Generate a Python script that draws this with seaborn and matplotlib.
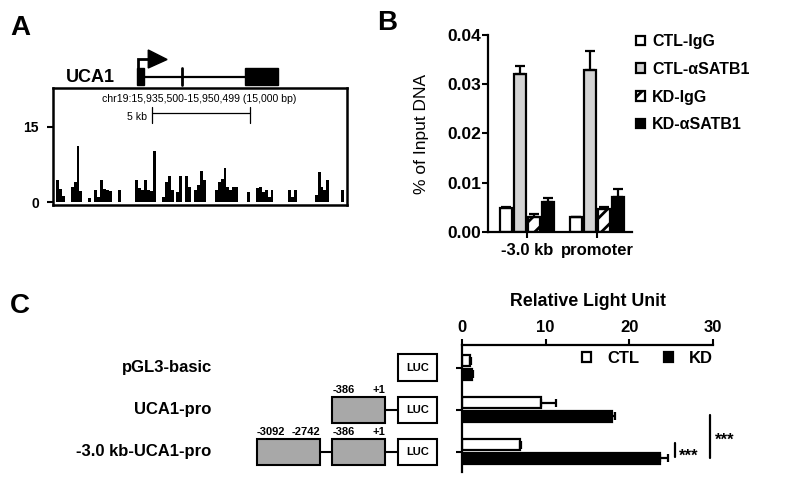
import numpy as np
import pandas as pd
import matplotlib.pyplot as plt
from matplotlib.patches import Patch, Rectangle, Polygon
import seaborn as sns

FIG_W, FIG_H = 785, 478

# ---- panel A: read coverage over the UCA1 locus (150 bp bins, 15 kb window) ----
TRACK_BIN_KB = 0.15
track_signal = [
    0, 4.4, 2.6, 1.2, 0, 0, 3.0, 4.1, 11.2, 2.2,
    0, 0, 0.9, 0, 2.4, 1.0, 4.4, 2.6, 2.4, 2.2,
    0, 0, 2.4, 0, 0, 0, 0, 0, 4.5, 2.8,
    2.4, 4.4, 2.5, 2.2, 10.3, 0, 0, 1.0, 4.0, 5.2,
    2.4, 0, 2.0, 5.2, 0, 5.2, 3.0, 0, 2.5, 3.5,
    6.3, 4.4, 0, 0, 0, 2.5, 4.1, 4.6, 6.9, 3.0,
    2.4, 3.1, 3.1, 0, 0, 0, 2.1, 0, 0, 2.8,
    3.1, 2.0, 2.5, 1.0, 2.5, 0, 0, 0, 0, 0,
    2.4, 1.0, 2.4, 0, 0, 0, 0, 0, 0, 1.5,
    6.1, 3.0, 2.4, 4.4, 0, 0, 0, 0, 2.4, 0,
]
track_yticks = [0, 15]
chr_label = "chr19:15,935,500-15,950,499 (15,000 bp)"
# gene model in kb from window start
exons_kb = [(4.29, 4.64), (9.80, 11.48)]
small_exon_kb = 6.58

# ---- panel B: ChIP-qPCR ----
b_regions = ["-3.0 kb", "promoter"]
b_groups = ["CTL-IgG", "CTL-\u03b1SATB1", "KD-IgG", "KD-\u03b1SATB1"]
b_ctl_igg = [0.0048, 0.0030]
b_ctl_satb1 = [0.0321, 0.0329]
b_kd_igg = [0.0030, 0.0046]
b_kd_satb1 = [0.0060, 0.0072]
b_ctl_igg_err = [0.0002, 0.0001]
b_ctl_satb1_err = [0.0017, 0.0039]
b_kd_igg_err = [0.0006, 0.0005]
b_kd_satb1_err = [0.0010, 0.0015]
b_yticks = [0.0, 0.01, 0.02, 0.03, 0.04]

# ---- panel C: luciferase reporter ----
c_constructs = ["pGL3-basic", "UCA1-pro", "-3.0 kb-UCA1-pro"]
c_conditions = ["CTL", "KD"]
c_ctl = [1.0, 9.5, 6.95]
c_kd = [1.2, 17.9, 23.65]
c_ctl_err = [0.15, 1.7, 0.15]
c_kd_err = [0.15, 0.4, 0.9]
c_xticks = [0, 10, 20, 30]

sns.set_style("ticks")
plt.rcParams["font.family"] = ["Liberation Sans", "DejaVu Sans"]
plt.rcParams["axes.edgecolor"] = "black"
plt.rcParams["xtick.color"] = "black"
plt.rcParams["ytick.color"] = "black"
plt.rcParams["text.color"] = "black"
plt.rcParams["axes.labelcolor"] = "black"
plt.rcParams["hatch.linewidth"] = 2.0

GREY_BOX = "#a8a8a8"
LIGHT = "#d3d3d3"


def px_axes(fig, left, top, right, bottom):
    return fig.add_axes([left / FIG_W, 1 - bottom / FIG_H,
                         (right - left) / FIG_W, (bottom - top) / FIG_H])


fig = plt.figure(figsize=(FIG_W / 100, FIG_H / 100), dpi=100)

# =================== A ===================
axA = px_axes(fig, 53, 88, 347, 205)
bin_starts = np.arange(len(track_signal)) * TRACK_BIN_KB
axA.bar(bin_starts, track_signal, width=TRACK_BIN_KB, align="edge",
        color="black", linewidth=0)
axA.set_xlim(0, 15)
axA.set_ylim(-0.6, 22.8)
for s in axA.spines.values():
    s.set_linewidth(1.8)
axA.set_xticks([])
axA.set_yticks(track_yticks)
axA.set_yticklabels([str(t) for t in track_yticks], fontweight="bold")
axA.tick_params(axis="y", length=4, width=1.5, pad=6, labelsize=10)

axA.text(7.45, 20.6, chr_label, ha="center", va="center", fontsize=7.6)
axA.plot([5.05, 10.05], [17.8, 17.8], color="black", lw=0.9)
for xk in (5.05, 10.05):
    axA.plot([xk, xk], [15.8, 19.0], color="black", lw=0.9)
axA.text(4.8, 17.0, "5 kb", ha="right", va="center", fontsize=7.6)

# gene model above the box
for x0, x1 in exons_kb:
    axA.add_patch(Rectangle((x0, 23.4), x1 - x0, 3.4, facecolor="black",
                            edgecolor="black", clip_on=False))
axA.plot([exons_kb[0][1], exons_kb[1][0]], [25.0, 25.0], color="black",
         lw=1.6, clip_on=False)
axA.plot([small_exon_kb, small_exon_kb], [23.4, 26.8], color="black",
         lw=2, clip_on=False)
axA.plot([4.36, 4.36, 4.9], [26.8, 28.6, 28.6], color="black", lw=2,
         clip_on=False, solid_joinstyle="miter")
axA.add_patch(Polygon([(4.86, 30.4), (4.86, 26.8), (5.82, 28.5)],
                      closed=True, facecolor="black", edgecolor="black",
                      clip_on=False))
axA.text(3.16, 24.8, "UCA1", ha="right", va="center", fontsize=13,
         fontweight="bold")

# =================== B ===================
axB = px_axes(fig, 488, 35, 632, 232)
df_b = pd.DataFrame({
    "region": b_regions * 4,
    "group": np.repeat(b_groups, len(b_regions)),
    "value": b_ctl_igg + b_ctl_satb1 + b_kd_igg + b_kd_satb1,
})
b_palette = dict(zip(b_groups, ["white", LIGHT, "white", "black"]))
sns.barplot(data=df_b, x="region", y="value", hue="group", order=b_regions,
            hue_order=b_groups, palette=b_palette, edgecolor="black",
            linewidth=1.6, width=0.8, gap=0.12, errorbar=None, legend=False,
            ax=axB)
b_errs = [b_ctl_igg_err, b_ctl_satb1_err, b_kd_igg_err, b_kd_satb1_err]
for cont, grp, errs in zip(axB.containers, b_groups, b_errs):
    for bar, e in zip(cont, errs):
        if grp == "KD-IgG":
            bar.set_hatch("//")
        xc = bar.get_x() + bar.get_width() / 2
        axB.errorbar(xc, bar.get_height(), yerr=[[0], [e]], fmt="none",
                     ecolor="black", elinewidth=1.6, capsize=3.5,
                     capthick=1.6)
axB.set_xlim(-0.557, 1.5)
axB.set_ylim(0, 0.04)
axB.set_yticks(b_yticks)
axB.set_yticklabels([f"{t:.2f}" for t in b_yticks], fontweight="bold")
axB.set_xticks(range(len(b_regions)))
axB.set_xticklabels(b_regions, fontweight="bold")
axB.tick_params(axis="y", length=4, width=1.5, pad=1, labelsize=12.5)
axB.tick_params(axis="x", length=4, width=1.5, pad=4, labelsize=12)
axB.set_xlabel("")
axB.set_ylabel("% of Input DNA", fontsize=12.5)
axB.yaxis.set_label_coords(-0.41, 0.5)
sns.despine(ax=axB)
for s in ("left", "bottom"):
    axB.spines[s].set_linewidth(1.6)

b_handles = [Patch(facecolor=b_palette[g], edgecolor="black", linewidth=1.6,
                   hatch="//" if g == "KD-IgG" else None) for g in b_groups]
axB.legend(b_handles, b_groups, loc="upper left",
           bbox_to_anchor=(636 / FIG_W, 1 - 34 / FIG_H),
           bbox_transform=fig.transFigure, frameon=False,
           prop={"weight": "bold", "size": 11.5}, handlelength=0.55,
           handleheight=0.55, handletextpad=0.45, labelspacing=0.8,
           borderpad=0, borderaxespad=0)

# =================== C ===================
axC = px_axes(fig, 461.7, 345, 713.3, 471.7)
df_c = pd.DataFrame({
    "construct": c_constructs * 2,
    "cond": np.repeat(c_conditions, len(c_constructs)),
    "rlu": c_ctl + c_kd,
})
c_palette = {"CTL": "white", "KD": "black"}
sns.barplot(data=df_c, x="rlu", y="construct", hue="cond", order=c_constructs,
            hue_order=c_conditions, palette=c_palette, orient="h",
            edgecolor="black", linewidth=1.6, width=0.66, gap=0.15,
            errorbar=None, legend=False, ax=axC)
for cont, errs in zip(axC.containers, [c_ctl_err, c_kd_err]):
    for bar, e in zip(cont, errs):
        yc = bar.get_y() + bar.get_height() / 2
        axC.errorbar(bar.get_width(), yc, xerr=[[0], [e]], fmt="none",
                     ecolor="black", elinewidth=1.6, capsize=3, capthick=1.6)
axC.set_xlim(0, 30)
axC.set_ylim(2.48, -0.536)
axC.xaxis.tick_top()
axC.set_xticks(c_xticks)
axC.set_xticklabels([str(t) for t in c_xticks], fontweight="bold")
axC.set_yticks(range(len(c_constructs)))
axC.set_yticklabels([])
axC.tick_params(axis="x", length=4, width=1.5, pad=3, labelsize=12)
axC.tick_params(axis="y", length=4, width=1.5)
axC.set_xlabel("")
axC.set_ylabel("")
axC.spines["bottom"].set_visible(False)
axC.spines["right"].set_visible(False)
for s in ("left", "top"):
    axC.spines[s].set_linewidth(1.6)
fig.text(588 / FIG_W, 1 - 301.7 / FIG_H, "Relative Light Unit", ha="center",
         va="center", fontsize=12.8, fontweight="bold")

c_handles = [Patch(facecolor=c_palette[c], edgecolor="black", linewidth=1.6)
             for c in c_conditions]
axC.legend(c_handles, c_conditions, ncol=2, loc="upper left",
           bbox_to_anchor=(582 / FIG_W, 1 - 351 / FIG_H),
           bbox_transform=fig.transFigure, frameon=False,
           prop={"weight": "bold", "size": 12}, handlelength=0.55,
           handleheight=0.55, handletextpad=0.95, columnspacing=1.5,
           borderpad=0, borderaxespad=0)

# significance marks
axC.plot([25.4, 25.4], [1.79, 2.14], color="black", lw=1.6, clip_on=False)
axC.text(25.9, 2.22, "***", ha="left", va="baseline", fontsize=12,
         fontweight="bold")
axC.plot([29.6, 29.6], [1.13, 2.16], color="black", lw=1.6, clip_on=False)
axC.text(30.2, 1.83, "***", ha="left", va="baseline", fontsize=12,
         fontweight="bold")

# construct schematics, sharing the row positions of the bar chart
axS = px_axes(fig, 0, 345, 460, 471.7)
axS.set_xlim(0, 460)
axS.set_ylim(2.48, -0.536)
axS.axis("off")
BOX_H = 0.62
promoter_parts = {
    0: [],
    1: [(332.3, 385, "-386", "+1")],
    2: [(256.7, 320, "-3092", "-2742"), (332.3, 385, "-386", "+1")],
}
for i, name in enumerate(c_constructs):
    axS.text(211.7, i, name, ha="right", va="center", fontsize=12,
             fontweight="bold")
    parts = promoter_parts[i]
    prev_right = None
    for x0, x1, lab0, lab1 in parts:
        if prev_right is not None:
            axS.plot([prev_right, x0], [i, i], color="black", lw=1.5)
        axS.add_patch(Rectangle((x0, i - BOX_H / 2), x1 - x0, BOX_H,
                                facecolor=GREY_BOX, edgecolor="black", lw=1.5))
        axS.text(x0, i - BOX_H / 2 - 0.04, lab0, ha="left", va="bottom",
                 fontsize=8, fontweight="bold")
        axS.text(x1, i - BOX_H / 2 - 0.04, lab1, ha="right", va="bottom",
                 fontsize=8, fontweight="bold")
        prev_right = x1
    if prev_right is not None:
        axS.plot([prev_right, 398], [i, i], color="black", lw=1.5)
    axS.add_patch(Rectangle((398, i - BOX_H / 2), 38.7, BOX_H,
                            facecolor="white", edgecolor="black", lw=1.5))
    axS.text(417.3, i, "LUC", ha="center", va="center", fontsize=8,
             fontweight="bold")

# panel letters
for letter, x, y in (("A", 10, 28), ("B", 377, 23), ("C", 10, 306)):
    fig.text(x / FIG_W, 1 - y / FIG_H, letter, ha="left", va="center",
             fontsize=20, fontweight="bold")

fig.savefig("out.png", dpi=100)
